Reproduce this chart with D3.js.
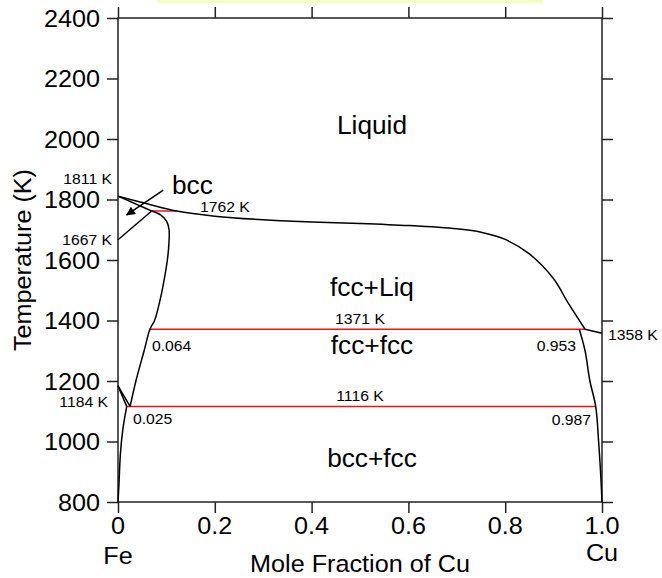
<!DOCTYPE html>
<html>
<head>
<meta charset="utf-8">
<script src="https://cdn.jsdelivr.net/npm/d3@7"></script>
<style>
html,body{margin:0;padding:0;background:#fff;}
svg{display:block;}
text{font-family:"Liberation Sans",Arial,Helvetica,sans-serif;fill:#000;}
</style>
</head>
<body>
<svg id="chart" width="662" height="578"></svg>
<script>
// ---- data ----
const xTickValues = [0, 0.2, 0.4, 0.6, 0.8, 1.0];
const xTickLabels = ["0", "0.2", "0.4", "0.6", "0.8", "1.0"];
const yTickValues = [800, 1000, 1200, 1400, 1600, 1800, 2000, 2200, 2400];
const yTickLabels = ["800", "1000", "1200", "1400", "1600", "1800", "2000", "2200", "2400"];

const liquidus = [[0,1811],[0.06,1786],[0.121,1762],[0.2,1745],[0.3,1733],[0.4,1726],[0.5,1721],[0.6,1714],[0.7,1703],[0.75,1692],[0.8,1668],[0.85,1620],[0.9,1538],[0.93,1458],[0.965,1371]];
const cuMelt = [[0.965,1371],[1.0,1358]];
const bccSolidus = [[0,1811],[0.0696,1762]];
const bccFccUpper = [[0,1667],[0.0696,1762]];
const fccFeBoundary = [[0.0696,1762],[0.088,1749],[0.1006,1728],[0.1055,1700],[0.105,1650],[0.102,1600],[0.096,1540],[0.090,1490],[0.076,1402],[0.066,1371],[0.054,1300],[0.037,1200],[0.025,1116]];
const gammaLoopBcc = [[0,1184],[0.018,1116]];
const gammaLoopFcc = [[0,1184],[0.025,1116]];
const bccSolvus = [[0.018,1116],[0.010,1040],[0.005,960],[0.002,860],[0,800]];
const cuSolvus = [[0.953,1371],[0.965,1300],[0.975,1200],[0.987,1116],[0.993,1000],[0.997,900],[1.0,800]];

const invT  = [1762, 1371, 1116];
const invX1 = [0.0696, 0.066, 0.018];
const invX2 = [0.121, 0.965, 0.987];

const arrowFrom = [0.0936, 1831];
const arrowTo   = [0.018, 1749];

// ---- layout ----
const svg = d3.select("#chart");
const L = 118, R = 602, T = 18, B = 502;
const x = d3.scaleLinear().domain([0, 1]).range([L, R]);
const y = d3.scaleLinear().domain([800, 2400]).range([B, T]);
const SX = 1.05;

function label(txt, px, py, size, anchor, rot) {
  const g = svg.append("g").attr("transform", `translate(${px},${py})` + (rot ? ` rotate(${rot})` : "") + ` scale(${SX},1)`);
  g.append("text").attr("x", 0).attr("y", 0).attr("font-size", size).attr("text-anchor", anchor || "start").text(txt);
}

// faint yellow bar at top
svg.append("rect").attr("x", 157).attr("y", 0).attr("width", 386).attr("height", 3).attr("fill", "#f4ffc4");

// frame
const frameColor = "#222";
svg.append("rect").attr("x", L).attr("y", T).attr("width", R - L).attr("height", B - T)
  .attr("fill", "none").attr("stroke", frameColor).attr("stroke-width", 1.5);

// axes ticks via d3 axes
const tickLen = 11;
const axB = d3.axisBottom(x).tickValues(xTickValues).tickSize(tickLen).tickFormat("");
const axTp = d3.axisTop(x).tickValues(xTickValues).tickSize(tickLen).tickFormat("");
const axL = d3.axisLeft(y).tickValues(yTickValues).tickSize(tickLen).tickFormat("");
const axR = d3.axisRight(y).tickValues(yTickValues).tickSize(tickLen).tickFormat("");
[[axB, `translate(0,${B})`], [axTp, `translate(0,${T})`], [axL, `translate(${L},0)`], [axR, `translate(${R},0)`]].forEach(([a, tr]) => {
  const g = svg.append("g").attr("transform", tr).call(a);
  g.select(".domain").remove();
  g.selectAll("line").attr("stroke", frameColor).attr("stroke-width", 1.5);
});

// tick labels
xTickValues.forEach((v, i) => label(xTickLabels[i], x(v), 534, 24, "middle"));
yTickValues.forEach((v, i) => label(yTickLabels[i], 100, y(v) + 8.5, 24, "end"));

// axis titles
label("Fe", x(0), 564, 24, "middle");
label("Cu", x(1), 561, 24, "middle");
label("Mole Fraction of Cu", (L + R) / 2, 572, 24, "middle");
label("Temperature (K)", 31, (T + B) / 2, 24, "middle", -90);

// invariant lines (red)
invT.forEach((t, i) => {
  svg.append("line").attr("x1", x(invX1[i])).attr("x2", x(invX2[i])).attr("y1", y(t)).attr("y2", y(t))
    .attr("stroke", "#e8141c").attr("stroke-width", 1.5);
});

// phase boundaries
const smooth = d3.line().x(d => x(d[0])).y(d => y(d[1])).curve(d3.curveCatmullRom.alpha(0.5));
const straight = d3.line().x(d => x(d[0])).y(d => y(d[1]));
[[liquidus, smooth], [fccFeBoundary, smooth], [bccSolvus, smooth], [cuSolvus, smooth],
 [cuMelt, straight], [bccSolidus, straight], [bccFccUpper, straight], [gammaLoopBcc, straight], [gammaLoopFcc, straight]]
  .forEach(([d, gen]) => {
    svg.append("path").attr("d", gen(d)).attr("fill", "none").attr("stroke", "#000").attr("stroke-width", 1.5);
  });

// arrow
svg.append("defs").append("marker").attr("id", "ah").attr("viewBox", "0 0 10 10").attr("refX", 9).attr("refY", 5)
  .attr("markerWidth", 11).attr("markerHeight", 9).attr("markerUnits", "userSpaceOnUse").attr("orient", "auto")
  .append("path").attr("d", "M0,0 L10,5 L0,10 z").attr("fill", "#000");
svg.append("line").attr("x1", x(arrowFrom[0])).attr("y1", y(arrowFrom[1])).attr("x2", x(arrowTo[0])).attr("y2", y(arrowTo[1]))
  .attr("stroke", "#000").attr("stroke-width", 1.5).attr("marker-end", "url(#ah)");

// region labels
label("Liquid", 372, 134, 25, "middle");
label("bcc", 172, 194, 25, "start");
label("fcc+Liq", 372, 296, 25, "middle");
label("fcc+fcc", 372, 354, 25, "middle");
label("bcc+fcc", 372, 467, 25, "middle");

// point labels
label("1811 K", 112, 184, 15, "end");
label("1667 K", 112, 245, 15, "end");
label("1184 K", 108, 407, 15, "end");
label("1358 K", 608, 340, 15, "start");
label("1762 K", 200, 212, 15, "start");
label("1371 K", 360, 324, 15, "middle");
label("1116 K", 360, 401, 15, "middle");
label("0.064", 152, 351, 15, "start");
label("0.025", 133, 424, 15, "start");
label("0.953", 576, 351, 15, "end");
label("0.987", 591, 425, 15, "end");
</script>
</body>
</html>
